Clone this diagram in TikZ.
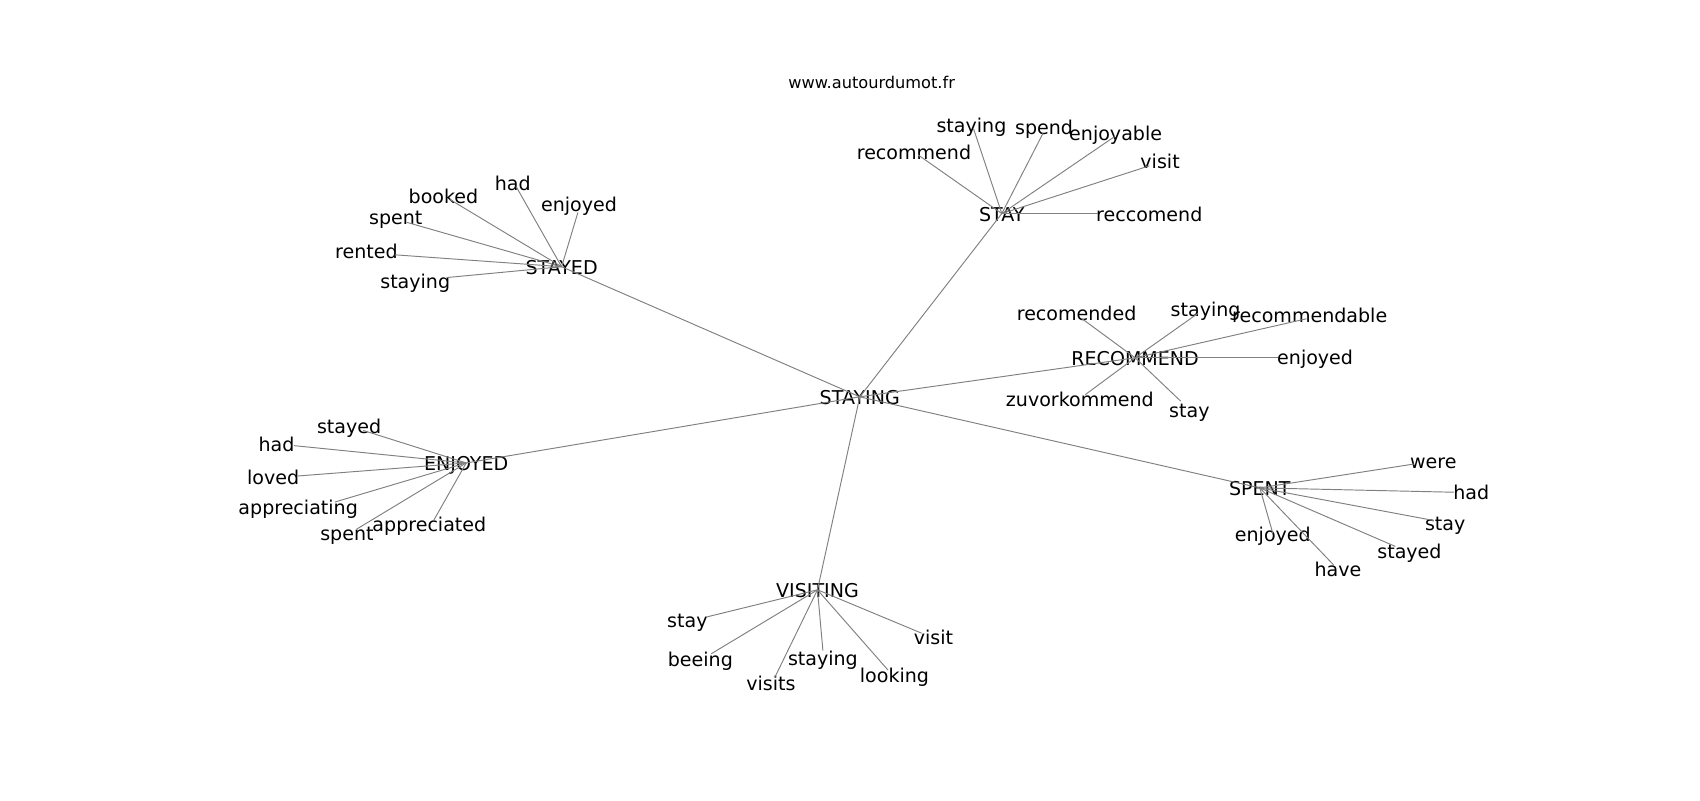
\documentclass[tikz,border=0pt]{standalone}
\usepackage{fontspec}
\setmainfont{DejaVu Sans}
\usepackage{tikz}

\begin{document}
\begin{tikzpicture}[x=0.02cm,y=-0.02cm,
	word/.style={font=\fontsize{10}{12}\selectfont,inner sep=0pt,text height=9.4pt,text depth=1.6pt},
	edge/.style={draw=gray,line width=0.5pt}]
				\useasboundingbox (0,0) rectangle (1568,738);
				\node[font=\fontsize{8.5}{10}\selectfont] (site) at (804,76) {www.autourdumot.fr};
				\node[word] (staying) at (793,366) {STAYING};
				\node[word] (stay) at (924,197) {STAY};
				\node[word] (stayed) at (518,246) {STAYED};
				\node[word] (recommend) at (1047,330) {RECOMMEND};
				\node[word] (enjoyed) at (430,427) {ENJOYED};
				\node[word] (spent) at (1162,450) {SPENT};
				\node[word] (visiting) at (754,544) {VISITING};
				\foreach \hub in {stay,stayed,recommend,enjoyed,spent,visiting}
					\draw[edge] (staying.center) -- (\hub.center);
				\coordinate (s1) at (898,119); \node[word] (s1w) at (896,115) {staying};
				\coordinate (s2) at (962,123); \node[word] (s2w) at (963,117) {spend};
				\coordinate (s3) at (847,143); \node[word] (s3w) at (843,140) {recommend};
				\coordinate (s4) at (1028,126); \node[word] (s4w) at (1029,123) {enjoyable};
				\coordinate (s5) at (1060,153); \node[word] (s5w) at (1070,149) {visit};
				\coordinate (s6) at (1013,197); \node[word] (s6w) at (1060,197) {reccomend};
				\coordinate (d1) at (476,172); \node[word] (d1w) at (473,169) {had};
				\coordinate (d2) at (415,184); \node[word] (d2w) at (409,181) {booked};
				\coordinate (d3) at (533,196); \node[word] (d3w) at (534,188) {enjoyed};
				\coordinate (d4) at (375,205); \node[word] (d4w) at (365,200) {spent};
				\coordinate (d5) at (364,235); \node[word] (d5w) at (338,232) {rented};
				\coordinate (d6) at (412,256); \node[word] (d6w) at (383,259) {staying};
				\coordinate (e1) at (335,397); \node[word] (e1w) at (322,393) {stayed};
				\coordinate (e2) at (271,411); \node[word] (e2w) at (255,410) {had};
				\coordinate (e3) at (275,439); \node[word] (e3w) at (252,440) {loved};
				\coordinate (e4) at (309,463); \node[word] (e4w) at (275,468) {appreciating};
				\coordinate (e5) at (329,488); \node[word] (e5w) at (320,492) {spent};
				\coordinate (e6) at (400,480); \node[word] (e6w) at (396,483) {appreciated};
				\coordinate (r1) at (998,294); \node[word] (r1w) at (993,289) {recomended};
				\coordinate (r2) at (1105,289); \node[word] (r2w) at (1112,285) {staying};
				\coordinate (r3) at (1205,294); \node[word] (r3w) at (1208,291) {recommendable};
				\coordinate (r4) at (1179,330); \node[word] (r4w) at (1213,329) {enjoyed};
				\coordinate (r5) at (1001,364); \node[word] (r5w) at (996,368) {zuvorkommend};
				\coordinate (r6) at (1089,370); \node[word] (r6w) at (1097,378) {stay};
				\coordinate (p1) at (1304,428); \node[word] (p1w) at (1322,425) {were};
				\coordinate (p2) at (1341,454); \node[word] (p2w) at (1357,454) {had};
				\coordinate (p3) at (1322,480); \node[word] (p3w) at (1333,482) {stay};
				\coordinate (p4) at (1287,504); \node[word] (p4w) at (1300,508) {stayed};
				\coordinate (p5) at (1174,492); \node[word] (p5w) at (1174,493) {enjoyed};
				\coordinate (p6) at (1230,521); \node[word] (p6w) at (1234,525) {have};
				\coordinate (v1) at (652,569); \node[word] (v1w) at (634,572) {stay};
				\coordinate (v2) at (656,603); \node[word] (v2w) at (646,608) {beeing};
				\coordinate (v3) at (759,600); \node[word] (v3w) at (759,607) {staying};
				\coordinate (v4) at (715,624); \node[word] (v4w) at (711,630) {visits};
				\coordinate (v5) at (819,618); \node[word] (v5w) at (825,623) {looking};
				\coordinate (v6) at (850,584); \node[word] (v6w) at (861,588) {visit};
				\foreach \i in {1,...,6} {
					\draw[edge] (stay.center) -- (s\i);
					\draw[edge] (stayed.center) -- (d\i);
					\draw[edge] (enjoyed.center) -- (e\i);
					\draw[edge] (recommend.center) -- (r\i);
					\draw[edge] (spent.center) -- (p\i);
					\draw[edge] (visiting.center) -- (v\i);
				}
			\end{tikzpicture}
\end{document}
